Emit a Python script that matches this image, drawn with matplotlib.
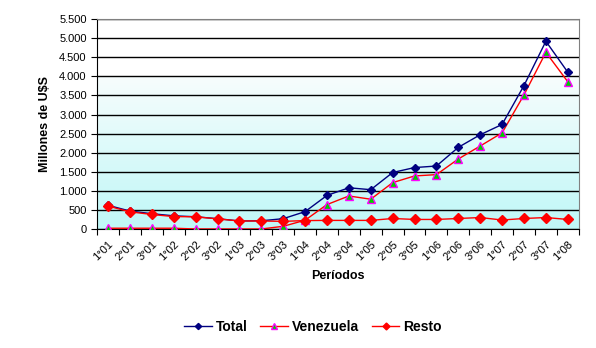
import matplotlib.pyplot as plt
import numpy as np
from matplotlib.ticker import FuncFormatter

periodos = ["1°01", "2°01", "3°01", "1°02", "2°02", "3°02", "1°03", "2°03", "3°03",
            "1°04", "2°04", "3°04", "1°05", "2°05", "3°05", "1°06", "2°06", "3°06",
            "1°07", "2°07", "3°07", "1°08"]
total = [620, 470, 400, 345, 320, 270, 210, 215, 270,
         455, 880, 1080, 1030, 1480, 1610, 1650, 2140, 2470,
         2740, 3760, 4920, 4110]
venezuela = [20, 20, 20, 20, 0, 0, 0, 0, 70,
             230, 640, 865, 780, 1215, 1390, 1425, 1835, 2175,
             2520, 3515, 4630, 3860]
resto = [600, 450, 380, 325, 320, 265, 210, 210, 200,
         220, 225, 225, 225, 275, 250, 250, 275, 300,
         235, 275, 300, 250]

plt.rcParams["font.family"] = ["Liberation Sans", "DejaVu Sans"]

fig = plt.figure(figsize=(5.96, 3.48), dpi=100)
ax = fig.add_axes([0.163, 0.342, 0.808, 0.603])

x = np.arange(len(periodos))
ax.set_xlim(-0.5, len(periodos) - 0.5)
ax.set_ylim(0, 5500)

# background gradient (white above 4000, light cyan towards 0)
grad = np.linspace(0, 1, 256).reshape(-1, 1)
c_top = np.array([0.97, 0.99, 0.99])
c_bot = np.array([0.75, 0.97, 0.97])
img = c_top + (c_bot - c_top) * grad[:, :, None]
ax.imshow(img, extent=[-0.5, len(periodos) - 0.5, 0, 4000], aspect="auto",
          origin="upper", zorder=0)

ax.yaxis.grid(True, color="black", linewidth=1.0, zorder=1)
ax.set_axisbelow(True)

ax.plot(x, total, color="#000080", marker="D", markersize=4.5, linewidth=1.0,
        label="Total", zorder=4)
ax.plot(x, venezuela, color="#ff0000", marker="^", markersize=6, linewidth=1.0,
        markerfacecolor="#00cc00", markeredgecolor="#ff00ff", markeredgewidth=1.0,
        label="Venezuela", zorder=3)
ax.plot(x, resto, color="#ff0000", marker="D", markersize=5, linewidth=1.0,
        label="Resto", zorder=5)

ax.set_yticks(np.arange(0, 5501, 500))
ax.yaxis.set_major_formatter(FuncFormatter(lambda v, p: f"{int(v):,}".replace(",", ".")))
ax.tick_params(axis="y", labelsize=8, length=4, direction="out", color="black")

ax.set_xticks(np.arange(-0.5, len(periodos), 1), minor=False)
ax.set_xticklabels([])
ax.set_xticks(x, minor=True)
ax.set_xticklabels(periodos, minor=True, rotation=45, ha="right",
                   rotation_mode="anchor", fontsize=8)
ax.tick_params(axis="x", which="major", length=4, direction="out", color="black")
ax.tick_params(axis="x", which="minor", length=0, pad=7)

for side in ["top", "right"]:
    ax.spines[side].set_color("#808080")
for side in ["left", "bottom"]:
    ax.spines[side].set_color("black")

ax.set_ylabel("Millones de U$S", fontsize=9, fontweight="bold", labelpad=6)
ax.set_xlabel("Períodos", fontsize=9, fontweight="bold", labelpad=6)

fig.legend(loc="center", bbox_to_anchor=(0.525, 0.06), ncol=3, frameon=False,
           prop={"size": 10, "weight": "bold"}, handlelength=2.0, columnspacing=0.9,
           handletextpad=0.3, markerscale=0.7)

fig.savefig("out.png", dpi=100)
